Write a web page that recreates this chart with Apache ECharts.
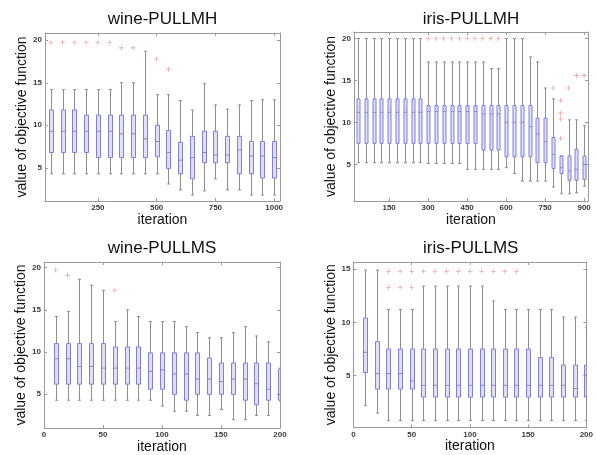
<!DOCTYPE html>
<html><head><meta charset="utf-8">
<script src="https://cdn.jsdelivr.net/npm/echarts@6/dist/echarts.min.js"></script>
<style>html,body{margin:0;padding:0;background:#fff}#c{width:596px;height:455px}</style>
</head><body><div id="c"></div>
<script>
// ---------- wine-PULLMH ----------
const wineMH_iter = [50,100,150,200,250,300,350,400,450,500,550,600,650,700,750,800,850,900,950,1000];
const wineMH_low  = [4.3,4.3,4.3,4.3,4.3,4.3,4.3,4.3,4.3,4.3,3.1,2.4,1.8,2.3,3.7,2.4,2.4,1.8,1.8,1.8];
const wineMH_q1   = [6.8,6.8,6.8,6.8,6.2,6.2,6.2,6.2,6.2,6.3,4.9,4.3,3.7,5.6,5.6,5.6,4.3,4.3,3.8,3.8];
const wineMH_med  = [9.3,9.3,9.3,9.3,9.3,9.3,9.0,9.0,8.4,8.1,6.8,5.9,6.2,6.8,6.5,6.5,7.1,6.4,6.4,6.2];
const wineMH_q3   = [11.8,11.8,11.8,11.2,11.2,11.2,11.2,11.2,11.2,10.0,9.4,8.0,8.7,9.3,9.3,8.7,8.7,8.1,8.1,8.1];
const wineMH_high = [14.2,14.2,14.2,14.2,14.2,14.2,15.0,15.0,18.7,13.6,13.6,12.9,11.8,14.9,12.4,11.9,12.4,12.9,13.0,13.0];
const wineMH_outX = [50,100,150,200,250,300,350,400,500,550];
const wineMH_outY = [19.7,19.7,19.7,19.7,19.7,19.7,19.1,19.1,17.8,16.6];

// ---------- iris-PULLMH ----------
const irisMH_iter = [30,60,90,120,150,180,210,240,270,300,330,360,390,420,450,480,510,540,570,600,630,660,690,720,750,780,810,840,870,900];
const irisMH_low  = [5.2,5.2,5.2,5.2,5.2,5.2,5.2,5.2,5.2,5.1,5.1,5.1,5.1,5.1,4.4,4.4,4.4,4.4,4.4,4.6,3.9,3.0,3.0,3.0,3.0,2.3,1.5,1.5,1.6,2.4];
const irisMH_q1   = [7.5,7.5,7.5,7.5,7.5,7.5,7.5,7.5,7.5,7.5,7.5,7.5,7.5,7.5,7.5,7.5,6.7,6.7,6.7,5.9,5.9,5.9,5.9,5.2,5.2,4.5,3.9,3.1,3.1,3.2];
const irisMH_med  = [11.2,11.2,11.2,11.2,11.2,11.2,11.2,11.2,11.2,11.3,11.3,11.3,11.3,11.3,11.3,11.3,11.0,11.0,11.0,10.0,10.0,10.0,9.5,8.6,7.7,6.2,4.6,4.2,4.4,5.0];
const irisMH_q3   = [12.8,12.8,12.8,12.8,12.8,12.8,12.8,12.8,12.8,12.0,12.0,12.0,12.0,12.0,12.0,12.0,12.0,12.0,12.0,12.0,12.0,12.0,12.0,10.5,10.5,8.2,6.0,6.0,6.8,6.0];
const irisMH_high = [20,20,20,20,20,20,20,20,20,17.2,17.2,17.2,17.2,17.2,17.2,17.2,17.2,16.4,16.4,20,20,20,17.8,17.2,14.1,12.8,6.0,10.3,10.3,9.6];
const irisMH_outX = [300,330,360,390,420,450,480,510,540,570,780,810,810,810,810,840,870,900];
const irisMH_outY = [20,20,20,20,20,20,20,20,20,20,14.1,12.6,11.1,10.4,8.1,14.1,15.6,15.6];

// ---------- wine-PULLMS ----------
const wineMS_iter = [10,20,30,40,50,60,70,80,90,100,110,120,130,140,150,160,170,180,190,200];
const wineMS_low  = [4.3,4.3,4.3,4.3,4.3,4.3,4.3,4.3,4.3,3.6,3.0,3.0,2.5,2.5,3.2,2.0,2.0,2.5,2.5,4.2];
const wineMS_q1   = [6.2,6.2,6.2,6.2,6.2,6.2,6.2,6.2,5.6,5.6,5.0,4.3,5.0,5.0,5.0,5.0,4.3,3.75,4.3,4.3];
const wineMS_med  = [9.2,9.2,8.3,8.3,8.1,8.1,8.1,8.1,7.7,7.9,7.4,7.4,6.8,6.8,6.5,6.8,6.8,6.25,5.6,5.0];
const wineMS_q3   = [11.0,11.0,11.0,11.0,11.0,10.6,10.6,10.6,9.9,9.9,9.9,9.9,9.9,9.3,8.7,8.7,8.7,8.7,8.7,8.0];
const wineMS_high = [14.2,14.8,18.6,17.9,17.3,13.6,15.0,14.2,13.6,13.6,13.6,13.0,12.3,11.7,11.7,12.3,13.0,11.9,11.2,8.1];
const wineMS_outX = [10,20,60];
const wineMS_outY = [19.7,19.1,17.3];

// ---------- iris-PULLMS ----------
const irisMS_iter = [10,20,30,40,50,60,70,80,90,100,110,120,130,140,150,160,170,180,190,200];
const irisMS_low  = [2.2,1.5,0.8,0.8,0.8,0.8,0.8,0.8,0.8,0.8,0.8,0.8,0.8,0.8,0.8,0.8,0.8,0.8,0.8,0.8];
const irisMS_q1   = [5.3,3.75,3.75,3.75,3.75,3.0,3.0,3.0,3.0,3.0,3.0,3.0,3.0,3.0,3.0,3.0,3.0,3.0,3.0,3.0];
const irisMS_med  = [7.2,5.2,5.2,5.2,4.5,4.1,4.1,4.1,4.1,4.1,4.1,4.1,4.1,4.1,4.1,4.1,4.1,4.1,3.8,5.0];
const irisMS_q3   = [10.4,8.2,7.5,7.5,7.5,7.5,7.5,7.5,7.5,7.5,7.5,7.5,7.5,7.5,7.5,6.7,6.7,6.0,6.0,6.0];
const irisMS_high = [14.9,14.9,11.2,11.2,11.2,13.4,13.4,13.4,13.4,13.4,13.4,12.0,11.2,11.2,11.2,11.2,11.2,10.5,10.5,9.5];
const irisMS_outX = [30,40,50,30,40,50,60,70,80,90,100,110,120,130,140];
const irisMS_outY = [13.3,13.3,13.3,14.8,14.8,14.8,14.8,14.8,14.8,14.8,14.8,14.8,14.8,14.8,14.8];

// ---------- axis ticks / titles ----------
const titles = ['wine-PULLMH','iris-PULLMH','wine-PULLMS','iris-PULLMS'];
const xTicks = [[250,500,750,1000],[150,300,450,600,750,900],[0,50,100,150,200],[0,50,100,150,200]];
const yTicks = [[5,10,15,20],[5,10,15,20],[5,10,15,20],[5,10,15]];
const xName = 'iteration';
const yName = 'value of objective function';

// ---------- layout (pixels) ----------
const grids = [
  {left:45, top:33, width:235, height:168},
  {left:354, top:32, width:234, height:169},
  {left:44, top:262, width:236, height:167},
  {left:353.5, top:262, width:234.5, height:165.5}
];
const xRange = [[25,1025],[15,915],[0,200],[0,200]];
const yRange = [[1.1,20.85],[0.63,20.77],[1.0,20.65],[0.15,15.66]];
const boxWidths = [4,3,4,4];
const yNameGap = [16,12,15,13];
const titleY = [19,19,248,248];

const panels = [
  [wineMH_iter,wineMH_low,wineMH_q1,wineMH_med,wineMH_q3,wineMH_high,wineMH_outX,wineMH_outY],
  [irisMH_iter,irisMH_low,irisMH_q1,irisMH_med,irisMH_q3,irisMH_high,irisMH_outX,irisMH_outY],
  [wineMS_iter,wineMS_low,wineMS_q1,wineMS_med,wineMS_q3,wineMS_high,wineMS_outX,wineMS_outY],
  [irisMS_iter,irisMS_low,irisMS_q1,irisMS_med,irisMS_q3,irisMS_high,irisMS_outX,irisMS_outY]
];

const FONT = 'Liberation Sans, Arial, Helvetica, sans-serif';
const frameColor = '#9a9a9a';
const boxStroke = '#7f7fe2';
const boxFill = 'rgba(150,150,238,0.30)';
const whiskerColor = '#8e8e8e';
const medianColor = '#8d80d8';
const outColor = '#e07070';

function makeRender(boxW) {
  return function (params, api) {
    const x = api.value(0);
    const lo = api.coord([x, api.value(1)]);
    const q1 = api.coord([x, api.value(2)]);
    const md = api.coord([x, api.value(3)]);
    const q3 = api.coord([x, api.value(4)]);
    const hi = api.coord([x, api.value(5)]);
    const cx = Math.round(lo[0]) + 0.5;
    const hw = boxW / 2;
    const cw = 1.5;
    const ws = {stroke: whiskerColor, lineWidth: 1};
    return {
      type: 'group',
      children: [
        {type:'line', shape:{x1:cx, y1:hi[1], x2:cx, y2:q3[1]}, style:ws},
        {type:'line', shape:{x1:cx, y1:q1[1], x2:cx, y2:lo[1]}, style:ws},
        {type:'line', shape:{x1:cx-cw, y1:hi[1], x2:cx+cw, y2:hi[1]}, style:ws},
        {type:'line', shape:{x1:cx-cw, y1:lo[1], x2:cx+cw, y2:lo[1]}, style:ws},
        {type:'rect', shape:{x:cx-hw, y:q3[1], width:boxW, height:q1[1]-q3[1]},
          style:{fill: boxFill, stroke: boxStroke, lineWidth: 1}},
        {type:'line', shape:{x1:cx-hw, y1:md[1], x2:cx+hw, y2:md[1]},
          style:{stroke: medianColor, lineWidth: 1}}
      ]
    };
  };
}

const crossPath = 'path://M0,4.4H10V5.6H0Z M4.4,0H5.6V10H4.4Z';

const option = {
  animation: false,
  backgroundColor: '#ffffff',
  grid: grids.map(g => Object.assign({containLabel:false}, g)),
  xAxis: [], yAxis: [], series: [],
  graphic: []
};

panels.forEach((p, i) => {
  const [iter, low, q1, med, q3, high, outX, outY] = p;
  const g = grids[i];
  option.xAxis.push({
    type:'value', gridIndex:i, position:'bottom', min:xRange[i][0], max:xRange[i][1],
    axisLine:{show:true, onZero:false, lineStyle:{color:frameColor, width:1}},
    axisTick:{show:true, inside:true, length:3, customValues:xTicks[i], lineStyle:{color:frameColor}},
    axisLabel:{show:true, customValues:xTicks[i], formatter: v => String(v), fontSize:8, fontWeight:'bold', color:'#3a3a3a', margin:3, fontFamily:FONT},
    splitLine:{show:false},
    name:xName, nameLocation:'middle', nameGap:6,
    nameTextStyle:{fontSize:14, color:'#111', fontFamily:FONT, verticalAlign:'top'}
  });
  option.xAxis.push({
    type:'value', gridIndex:i, position:'top', min:xRange[i][0], max:xRange[i][1],
    axisLine:{show:true, onZero:false, lineStyle:{color:frameColor, width:1}},
    axisTick:{show:true, inside:true, length:3, customValues:xTicks[i], lineStyle:{color:frameColor}},
    axisLabel:{show:false}, splitLine:{show:false}
  });
  option.yAxis.push({
    type:'value', gridIndex:i, position:'left', min:yRange[i][0], max:yRange[i][1],
    axisLine:{show:true, onZero:false, lineStyle:{color:frameColor, width:1}},
    axisTick:{show:true, inside:true, length:3, customValues:yTicks[i], lineStyle:{color:frameColor}},
    axisLabel:{show:true, customValues:yTicks[i], formatter: v => String(v), fontSize:8, fontWeight:'bold', color:'#3a3a3a', margin:3, fontFamily:FONT},
    splitLine:{show:false},
    name:yName, nameLocation:'middle', nameGap:yNameGap[i], nameRotate:90,
    nameTextStyle:{fontSize:14, color:'#111', fontFamily:FONT}
  });
  option.yAxis.push({
    type:'value', gridIndex:i, position:'right', min:yRange[i][0], max:yRange[i][1],
    axisLine:{show:true, onZero:false, lineStyle:{color:frameColor, width:1}},
    axisTick:{show:true, inside:true, length:3, customValues:yTicks[i], lineStyle:{color:frameColor}},
    axisLabel:{show:false}, splitLine:{show:false}
  });

  const boxData = iter.map((x, k) => [x, low[k], q1[k], med[k], q3[k], high[k]]);
  option.series.push({
    type:'custom', xAxisIndex:2*i, yAxisIndex:2*i, clip:true,
    renderItem: makeRender(boxWidths[i]),
    encode:{x:0, y:[1,2,3,4,5]},
    data: boxData, silent:true
  });
  option.series.push({
    type:'scatter', xAxisIndex:2*i, yAxisIndex:2*i,
    symbol: crossPath, symbolSize:5,
    itemStyle:{color:outColor},
    data: outX.map((x, k) => [x, outY[k]]), silent:true
  });

  option.graphic.push({
    type:'text',
    x: g.left + g.width / 2, y: titleY[i],
    style:{text:titles[i], fill:'#111', font:'17px ' + FONT, textAlign:'center', textVerticalAlign:'middle'}
  });
});

const chart = echarts.init(document.getElementById('c'), null, {renderer:'canvas'});
chart.setOption(option);
</script>
</body></html>
